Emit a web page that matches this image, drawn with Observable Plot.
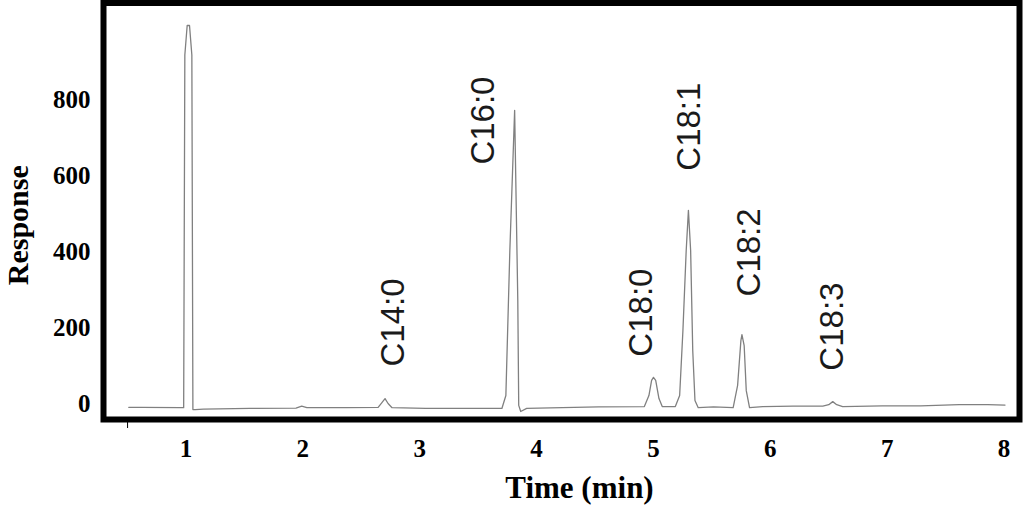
<!DOCTYPE html>
<html>
<head>
<meta charset="utf-8">
<script src="https://cdn.jsdelivr.net/npm/d3@7"></script>
<script src="https://cdn.jsdelivr.net/npm/@observablehq/plot@0.6"></script>
<style>
  html, body { margin: 0; padding: 0; background: #fff; }
</style>
</head>
<body>
<div id="chart"></div>
<script>
// Chromatogram trace (time in min, detector response)
const traceTime = [
  0.510, 0.620, 0.950, 0.980, 0.990, 1.010, 1.030, 1.050, 1.059, 1.079,
  1.149, 1.545, 1.941, 1.990, 2.034, 2.373,
  2.644, 2.678, 2.703, 2.729, 2.763, 3.051, 3.390, 3.703,
  3.737, 3.771, 3.812, 3.839, 3.847, 3.864, 3.915,
  4.219, 4.531, 4.922,
  4.961, 4.984, 5.000, 5.019, 5.047, 5.075, 5.187,
  5.224, 5.252, 5.280, 5.299, 5.318, 5.336, 5.355, 5.383,
  5.514, 5.682,
  5.720, 5.748, 5.757, 5.776, 5.794, 5.822,
  5.935, 6.195, 6.449,
  6.500, 6.534, 6.568, 6.619,
  6.958, 7.287, 7.615, 7.861, 8.008
];
const traceResponse = [
  -10, -10, -11, -11, 920, 998, 998, 920, -16, -16,
  -15, -13, -12, -7, -11, -11,
  -10, 3, 13, 0, -11, -13, -13, -13,
  21, 404, 774, 272, -5, -21, -13,
  -11, -9, -8,
  21, 61, 69, 61, 13, -8, -8,
  21, 193, 404, 510, 404, 140, 8, -11,
  -9, -11,
  48, 166, 182, 153, 34, -11,
  -8, -7, -7,
  -3, 5, -3, -8,
  -6, -6, -3, -3, -4
];

// Peak labels
const peakNames = ["C14:0", "C16:0", "C18:0", "C18:1", "C18:2", "C18:3"];
const peakLabelTime = [2.771, 3.542, 4.898, 5.308, 5.822, 6.534];
const peakLabelResponse = [214, 747, 240, 731, 399, 203];

// Axes
const xTicks = [1, 2, 3, 4, 5, 6, 7, 8];
const xMinorTicks = [0.5];
const yTicks = [0, 200, 400, 600, 800];
const xDomain = [0.294, 8.132];
const yDomain = [-42.2, 1057.4];

const trace = traceTime.map((t, i) => ({time: t, response: traceResponse[i]}));
const peaks = peakNames.map((n, i) => ({name: n, time: peakLabelTime[i], response: peakLabelResponse[i]}));

const serif = "'Liberation Serif', 'Times New Roman', serif";
const sans = "'Liberation Sans', Arial, sans-serif";

const chart = Plot.plot({
  width: 1024,
  height: 519,
  marginLeft: 103,
  marginRight: 5,
  marginTop: 2.5,
  marginBottom: 100,
  style: {fontFamily: serif, background: "#fff", color: "#000"},
  x: {domain: xDomain},
  y: {domain: yDomain},
  marks: [
    Plot.line(trace, {x: "time", y: "response", stroke: "#808080", strokeWidth: 1.3}),
    Plot.text(peaks, {x: "time", y: "response", text: "name", rotate: -90,
      fontSize: 33, fontFamily: sans, fill: "#1a1a1a"}),
    Plot.axisY({ticks: yTicks, tickSize: 0, tickPadding: 13, fontSize: 25,
      fontWeight: "bold", fontFamily: serif, label: null}),
    Plot.axisX({ticks: xTicks, tickSize: 0, tickPadding: 20, fontSize: 25,
      fontWeight: "bold", fontFamily: serif, label: null}),
    Plot.axisX({ticks: xMinorTicks, tickSize: 9, tickFormat: () => "", label: null}),
    Plot.frame({stroke: "#000", strokeWidth: 6}),
    Plot.text(["Response"], {text: d => d, frameAnchor: "left", textAnchor: "middle", lineAnchor: "middle",
      rotate: -90, dx: -85, dy: 14, fontSize: 30, fontWeight: "bold", fontFamily: serif}),
    Plot.text(["Time (min)"], {text: d => d, frameAnchor: "bottom", textAnchor: "middle", lineAnchor: "middle",
      dx: 18, dy: 69, fontSize: 31, fontWeight: "bold", fontFamily: serif})
  ]
});
document.getElementById("chart").appendChild(chart);
</script>
</body>
</html>
